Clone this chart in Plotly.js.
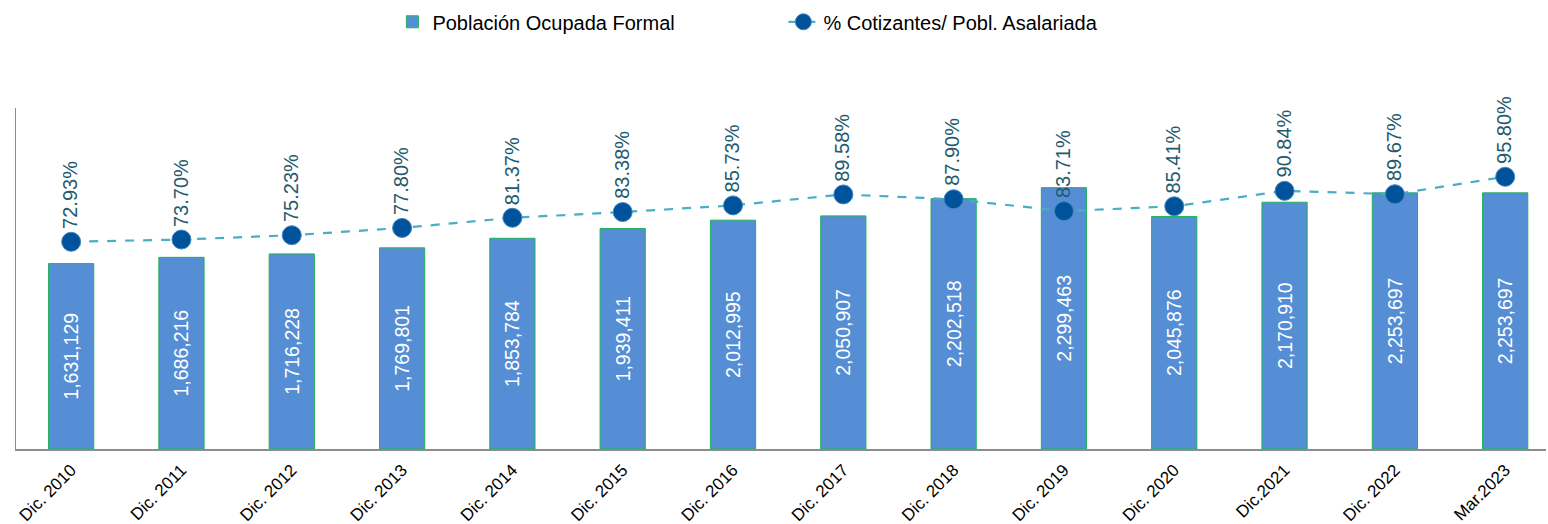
<!DOCTYPE html>
<html>
<head>
<meta charset="utf-8">
<script src="https://cdn.plot.ly/plotly-3.0.1.min.js"></script>
<style>html,body{margin:0;padding:0;background:#fff;}#chart{width:1548px;height:524px;}</style>
</head>
<body>
<div id="chart"></div>
<script>
const categories = ["Dic. 2010","Dic. 2011","Dic. 2012","Dic. 2013","Dic. 2014","Dic. 2015","Dic. 2016","Dic. 2017","Dic. 2018","Dic. 2019","Dic. 2020","Dic.2021","Dic. 2022","Mar.2023"];
const poblacionFormal = [1631129,1686216,1716228,1769801,1853784,1939411,2012995,2050907,2202518,2299463,2045876,2170910,2253697,2253697];
const pctCotizantes = [72.93,73.70,75.23,77.80,81.37,83.38,85.73,89.58,87.90,83.71,85.41,90.84,89.67,95.80];

const FONT = "Liberation Sans, Arial, sans-serif";
const xIdx = categories.map((c,i)=>i);

const barTrace = {
  type: "bar",
  name: "Población Ocupada Formal",
  x: xIdx,
  y: poblacionFormal,
  width: 0.41,
  marker: {color: "#558ed5", line: {color: "#1fb25a", width: 1}},
  texttemplate: "%{y:,}",
  textposition: "inside",
  insidetextanchor: "middle",
  textangle: -90,
  constraintext: "none",
  textfont: {family: FONT, size: 19.5, color: "#ffffff"},
  hoverinfo: "skip"
};

const lineTrace = {
  type: "scatter",
  mode: "lines+markers",
  name: "% Cotizantes/ Pobl. Asalariada",
  x: xIdx,
  y: pctCotizantes,
  yaxis: "y2",
  line: {color: "#4bacc6", width: 2.2, dash: "dash"},
  marker: {color: "#00529b", size: 19, line: {color: "#3f86c0", width: 1}},
  hoverinfo: "skip"
};

const annotations = pctCotizantes.map((v,i)=>({
  x: i, y: v, xref: "x", yref: "y2",
  text: v.toFixed(2) + "%",
  textangle: -90,
  showarrow: false,
  xanchor: "center", yanchor: "bottom",
  yshift: 11, xshift: -1,
  font: {family: FONT, size: 20, color: "#235a6e"}
}));

const layout = {
  width: 1548, height: 524,
  margin: {l: 16, r: 2, t: 108, b: 75},
  paper_bgcolor: "#ffffff",
  plot_bgcolor: "#ffffff",
  showlegend: true,
  legend: {
    orientation: "h",
    x: 0.246, xanchor: "left",
    y: 1.31, yanchor: "top",
    font: {family: FONT, size: 20, color: "#000000"},
    entrywidth: 346, entrywidthmode: "pixels",
    itemwidth: 30,
    bgcolor: "rgba(0,0,0,0)"
  },
  xaxis: {
    range: [-0.5, 13.37],
    tickmode: "array",
    tickvals: xIdx,
    ticktext: categories,
    tickangle: -45,
    tickfont: {family: FONT, size: 17, color: "#000000"},
    ticklabelstandoff: 3,
    showline: true, linecolor: "#8c8c8c", linewidth: 1.5,
    showgrid: false, zeroline: false, ticks: "", ticklen: 0
  },
  yaxis: {
    range: [0, 3000000],
    showline: true, linecolor: "#8c8c8c", linewidth: 1.5,
    showticklabels: false, showgrid: false, zeroline: false, ticks: ""
  },
  yaxis2: {
    range: [0, 120],
    overlaying: "y", side: "right",
    showline: false, showticklabels: false, showgrid: false, zeroline: false
  },
  annotations: annotations,
  font: {family: FONT}
};

Plotly.newPlot("chart", [barTrace, lineTrace], layout, {displayModeBar: false, staticPlot: true});
</script>
</body>
</html>
